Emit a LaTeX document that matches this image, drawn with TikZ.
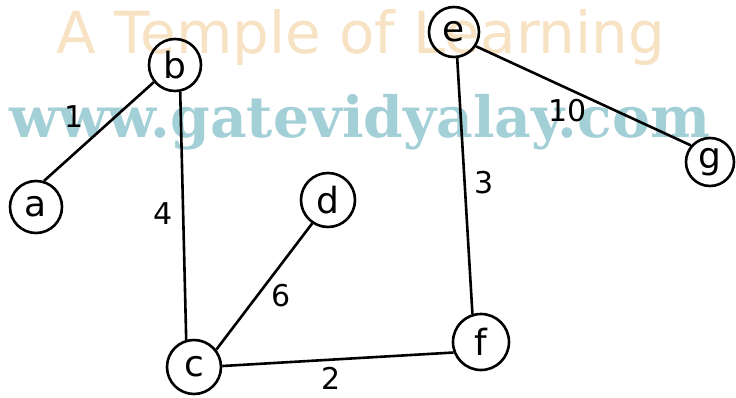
\documentclass[tikz,border=0pt]{standalone}
\usepackage{fontspec}
\usepackage{graphicx}
\setmainfont{DejaVu Sans}
\newfontfamily\wmserif{DejaVu Serif}
\definecolor{wmtan}{HTML}{F7E2C4}
\definecolor{wmteal}{HTML}{A3CFD6}
\tikzset{
  vtx/.style={draw, circle, line width=2.6pt, inner sep=0pt, minimum size=52pt, font=\fontsize{36}{36}\selectfont},
  edge/.style={line width=2.6pt},
  wlabel/.style={inner sep=0.5pt, font=\fontsize{30}{30}\selectfont}
}
\begin{document}
\begin{tikzpicture}[x=1pt,y=-1pt]
\useasboundingbox (0,0) rectangle (736,397);
\fill[white] (0,0) rectangle (736,397);
% watermark
\node[text=wmtan, anchor=center] (wm1) at (361,38) {\resizebox{608pt}{!}{A Temple of Learning}};
\node[text=wmteal, anchor=center] (wm2) at (360,122) {\resizebox{700pt}{!}{\wmserif\bfseries www.gatevidyalay.com}};
% vertices
\node[vtx, minimum size=52pt] (a) at (36,207) {a};
\node[vtx] (b) at (175,65) {b};
\node[vtx, minimum size=54pt] (c) at (194,367) {c};
\node[vtx, minimum size=54pt] (d) at (328,200) {d};
\node[vtx, minimum size=50pt] (e) at (454,32) {e};
\node[vtx, minimum size=56pt] (f) at (481,342) {f};
\node[vtx, minimum size=48pt] (g) at (710,162) {g};
% edges
\draw[edge] (b.219) -- (a.73);
\draw[edge] (b.281) -- (c.106);
\draw[edge] (c.38) -- (d.236);
\draw[edge] (c.2) -- (f.201);
\draw[edge] (e.277) -- (f.107);
\draw[edge] (e.-33) -- (g.139);
% weights
\node[wlabel] (w1) at (74,117) {1};
\node[wlabel] (w4) at (163,214) {4};
\node[wlabel] (w6) at (281,296) {6};
\node[wlabel] (w2) at (331,378) {2};
\node[wlabel] (w3) at (484,183) {3};
\node[wlabel] (w10) at (568,111) {10};
\end{tikzpicture}
\end{document}
